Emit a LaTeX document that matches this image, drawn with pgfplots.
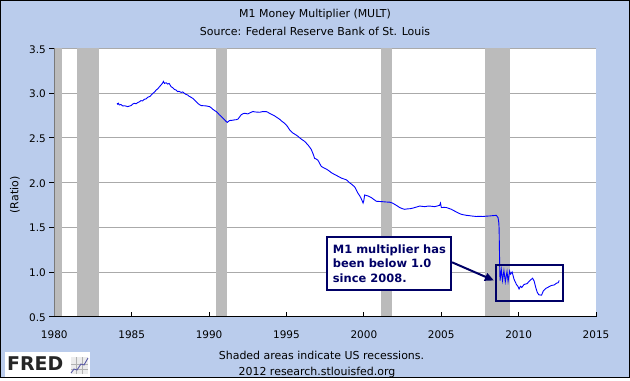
\documentclass[border=0pt]{standalone}
\usepackage{fontspec}
\setmainfont{DejaVu Sans}
\usepackage{pgfplots}
\pgfplotsset{compat=1.18}
\usetikzlibrary{arrows.meta}
\definecolor{bgblue}{RGB}{186,204,236}
\definecolor{recgray}{RGB}{187,187,187}
\definecolor{gridgray}{RGB}{170,170,170}
\definecolor{navy}{RGB}{0,0,102}
\definecolor{lineblue}{RGB}{0,0,255}
\begin{document}
\begin{tikzpicture}[x=1bp,y=1bp]
\fill[bgblue] (0,0) rectangle (630,378);
\begin{axis}[
  at={(54.3bp,61.3bp)}, anchor=south west,
  scale only axis, width=541.7bp, height=268.4bp,
  xmin=1980, xmax=2015, ymin=0.5, ymax=3.5,
  xtick={1980,1985,...,2015}, ytick={0.5,1.0,...,3.5},
  axis x line*=bottom, axis y line*=left,
  axis line style={black, line width=0.9bp},
  axis background/.style={fill=white},
  ymajorgrids, grid style={gridgray, line width=0.8bp},
  tick align=outside, major tick length=5bp,
  tick style={black, line width=0.8bp},
  xtick style={yshift=5bp},
  /pgf/number format/assume math mode=true,
  xticklabel style={/pgf/number format/1000 sep={}, font=\fontsize{10.5}{12}\selectfont, yshift=-6bp},
  yticklabel style={/pgf/number format/fixed, /pgf/number format/fixed zerofill, /pgf/number format/precision=1, font=\fontsize{10.5}{12}\selectfont, yshift=-1bp},
  clip=true,
]
% recessions
\addplot[fill=recgray, draw=none, forget plot] coordinates {(1980.0,0.503) (1980.0,3.5) (1980.5,3.5) (1980.5,0.503)} -- cycle;
\addplot[fill=recgray, draw=none, forget plot] coordinates {(1981.45,0.503) (1981.45,3.5) (1982.87,3.5) (1982.87,0.503)} -- cycle;
\addplot[fill=recgray, draw=none, forget plot] coordinates {(1990.45,0.503) (1990.45,3.5) (1991.17,3.5) (1991.17,0.503)} -- cycle;
\addplot[fill=recgray, draw=none, forget plot] coordinates {(2001.12,0.503) (2001.12,3.5) (2001.84,3.5) (2001.84,0.503)} -- cycle;
\addplot[fill=recgray, draw=none, forget plot] coordinates {(2007.83,0.503) (2007.83,3.5) (2009.42,3.5) (2009.42,0.503)} -- cycle;
% M1 multiplier
\addplot[lineblue, line width=0.9bp] coordinates {
(1984.05,2.885) (1984.10,2.875) (1984.15,2.885) (1984.20,2.867) (1984.30,2.872) (1984.42,2.856) (1984.55,2.858) (1984.74,2.848)
(1984.96,2.860) (1985.05,2.875) (1985.17,2.885) (1985.28,2.880) (1985.39,2.893) (1985.50,2.902) (1985.60,2.915) (1985.70,2.912)
(1985.82,2.930) (1985.93,2.935) (1986.04,2.952) (1986.20,2.965) (1986.36,2.996) (1986.47,3.010) (1986.58,3.033) (1986.70,3.050)
(1986.79,3.070) (1986.90,3.090) (1987.01,3.115) (1987.05,3.130) (1987.12,3.107) (1987.22,3.115) (1987.33,3.100) (1987.42,3.108)
(1987.55,3.070) (1987.65,3.060) (1987.76,3.040) (1987.85,3.035) (1987.98,3.015) (1988.05,3.020) (1988.19,3.007) (1988.30,3.012)
(1988.41,2.996) (1988.50,2.985) (1988.62,2.978) (1988.70,2.965) (1988.84,2.952) (1988.95,2.940) (1989.06,2.922) (1989.15,2.905)
(1989.27,2.885) (1989.38,2.870) (1989.49,2.860) (1989.65,2.858) (1989.81,2.856) (1989.92,2.852) (1990.03,2.848) (1990.14,2.835)
(1990.24,2.819) (1990.35,2.805) (1990.46,2.793) (1990.57,2.775) (1990.67,2.756) (1990.78,2.740) (1990.89,2.719) (1991.00,2.700)
(1991.10,2.682) (1991.18,2.672) (1991.32,2.693) (1991.48,2.695) (1991.64,2.700) (1991.75,2.702) (1991.86,2.708) (1991.96,2.730)
(1992.07,2.756) (1992.18,2.768) (1992.29,2.774) (1992.40,2.770) (1992.50,2.767) (1992.65,2.780) (1992.83,2.793) (1993.00,2.788)
(1993.26,2.785) (1993.45,2.792) (1993.69,2.793) (1993.80,2.785) (1993.90,2.774) (1994.05,2.760) (1994.23,2.745) (1994.40,2.725)
(1994.55,2.708) (1994.70,2.685) (1994.87,2.663) (1995.05,2.630) (1995.20,2.590) (1995.40,2.555) (1995.63,2.530) (1995.75,2.515)
(1995.85,2.500) (1996.00,2.480) (1996.17,2.460) (1996.28,2.440) (1996.39,2.420) (1996.50,2.395) (1996.60,2.370) (1996.72,2.320)
(1996.82,2.270) (1996.92,2.262) (1997.03,2.250) (1997.14,2.215) (1997.25,2.180) (1997.40,2.165) (1997.58,2.150) (1997.75,2.130)
(1997.90,2.110) (1998.05,2.095) (1998.22,2.080) (1998.38,2.065) (1998.54,2.050) (1998.70,2.040) (1998.87,2.030) (1998.97,2.015)
(1999.08,1.997) (1999.25,1.975) (1999.41,1.950) (1999.52,1.915) (1999.62,1.880) (1999.72,1.855) (1999.80,1.830) (1999.88,1.800)
(1999.95,1.770) (2000.00,1.800) (2000.05,1.860) (2000.15,1.855) (2000.27,1.850) (2000.38,1.840) (2000.49,1.830) (2000.65,1.810)
(2000.81,1.790) (2001.00,1.788) (2001.24,1.785) (2001.45,1.782) (2001.67,1.780) (2001.85,1.770) (2002.00,1.755) (2002.16,1.738)
(2002.32,1.720) (2002.48,1.708) (2002.64,1.700) (2002.80,1.705) (2002.97,1.707) (2003.13,1.712) (2003.29,1.720) (2003.45,1.728)
(2003.61,1.737) (2003.78,1.733) (2003.94,1.730) (2004.10,1.735) (2004.26,1.737) (2004.42,1.733) (2004.58,1.730) (2004.75,1.738)
(2004.90,1.745) (2004.95,1.770) (2005.01,1.720) (2005.17,1.722) (2005.34,1.720) (2005.50,1.710) (2005.66,1.700) (2005.82,1.685)
(2005.98,1.670) (2006.15,1.655) (2006.31,1.644) (2006.47,1.638) (2006.63,1.633) (2006.79,1.630) (2006.95,1.626) (2007.11,1.623)
(2007.27,1.620) (2007.48,1.622) (2007.70,1.620) (2007.92,1.624) (2008.13,1.626) (2008.35,1.630) (2008.56,1.633) (2008.67,1.607)
(2008.72,1.550) (2008.74,1.480) (2008.76,1.250) (2008.78,1.030) (2008.80,0.904) (2008.88,1.030) (2008.96,0.904)
(2009.05,1.015) (2009.14,0.890) (2009.25,1.005) (2009.32,0.895) (2009.42,1.010) (2009.48,0.975)
(2009.58,1.000) (2009.70,0.920) (2009.86,0.860) (2009.95,0.840) (2010.03,0.810) (2010.12,0.840) (2010.20,0.826)
(2010.35,0.860) (2010.55,0.870) (2010.70,0.900) (2010.80,0.915) (2010.90,0.930) (2011.00,0.900) (2011.10,0.830)
(2011.20,0.774) (2011.30,0.745) (2011.37,0.744) (2011.48,0.740) (2011.60,0.790) (2011.75,0.815) (2011.91,0.830)
(2012.10,0.848) (2012.30,0.855) (2012.45,0.875) (2012.56,0.880) (2012.62,0.905)
};
% annotation
\draw[navy, line width=2bp, fill=white] (axis cs:1997.64,1.386) rectangle (axis cs:2005.66,0.800);
\node[navy, font=\fontsize{11.5}{14.7}\selectfont\bfseries, align=left, inner sep=0pt] at (axis cs:2001.65,1.094) {M1 multiplier has\\been below 1.0\\since 2008.};
\draw[navy, line width=2bp] (axis cs:2008.57,1.081) rectangle (axis cs:2012.88,0.681);
\draw[navy, line width=2bp, -{Triangle[length=9bp,width=8bp]}] (axis cs:2005.70,1.108) -- (axis cs:2008.40,0.905);
\end{axis}
% titles
\node[font=\fontsize{11}{13}\selectfont] at (315,364) {M1 Money Multiplier (MULT)};
\node[font=\fontsize{11}{13}\selectfont] at (315,347) {Source: Federal Reserve Bank of St. Louis};
\node[font=\fontsize{11}{13}\selectfont, rotate=90] at (15,183) {(Ratio)};
\node[font=\fontsize{11}{13}\selectfont] at (321.5,22.7) {Shaded areas indicate US recessions.};
\node[font=\fontsize{11}{13}\selectfont] at (317,5.8) {2012 research.stlouisfed.org};
% FRED logo
\fill[white] (5,1) rectangle (90,25.7);
\node[font=\fontsize{19}{19}\selectfont\bfseries, anchor=west, inner sep=0pt, text=black!85] at (7,14) {FRED};
\fill[gray!15] (71,4) rectangle (88,21);
\draw[gray!60, line width=0.4] (71,9) -- (88,9) (71,14) -- (88,14) (76,4) -- (76,21) (82,4) -- (82,21);
\draw[gray!70!blue, line width=0.9] (71,5) -- (74,9) -- (77,8) -- (81,14) -- (84,13) -- (88,20);
% outer border
\draw[black, line width=1bp] (0.5,0.5) rectangle (629.5,377.5);
\end{tikzpicture}
\end{document}
